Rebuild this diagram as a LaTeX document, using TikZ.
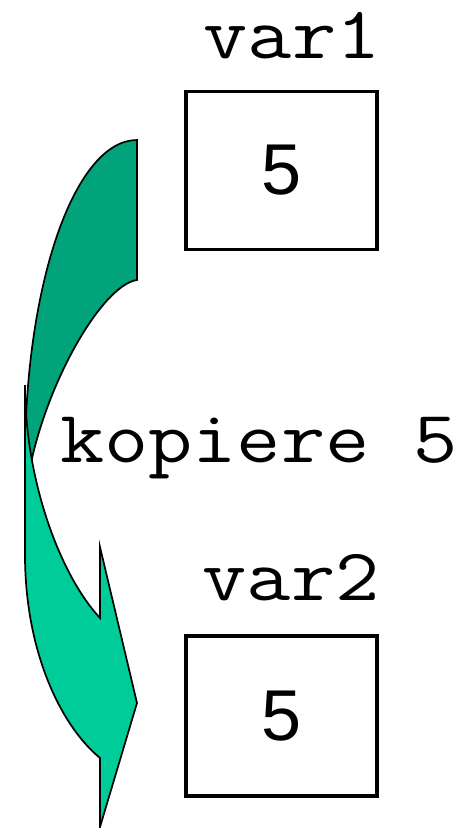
\documentclass[tikz,border=0pt]{standalone}
\usepackage{graphicx}
\usepackage{fontspec}
\setmainfont{Liberation Sans}
\definecolor{arrowback}{RGB}{0,163,122}
\definecolor{arrowfront}{RGB}{0,204,153}
% wide typewriter lettering for the labels
\newcommand{\widett}[1]{\scalebox{1.16}[1]{#1}}

\begin{document}
\begin{tikzpicture}[x=1pt,y=-1pt,
  varbox/.style={draw, line width=3.5pt, minimum width=191pt, minimum height=158pt,
    inner sep=0pt, font=\fontsize{72}{72}\selectfont},
  varlabel/.style={font=\ttfamily\fontsize{74}{74}\selectfont, anchor=base, inner sep=0pt},
  arrowpart/.style={draw=black, line width=1.7pt, line join=miter}]
\useasboundingbox (0,0) rectangle (463,828);

% back (tail) part of the curved arrow
\fill[arrowback, arrowpart] (137,140)
  .. controls (75,140) and (25,283) .. (25,460)
  -- (25,500)
  .. controls (35,400) and (100,285) .. (137,280)
  -- cycle;

% front part with the arrow head
\fill[arrowfront, arrowpart] (25,385)
  -- (25,555)
  .. controls (25,650) and (60,725) .. (100,758)
  -- (100,827) -- (137,703) -- (100,547) -- (100,618)
  .. controls (60,575) and (25,480) .. (25,385)
  -- cycle;

% variables
\node[varlabel] (v1label) at (292,58) {\widett{var1}};
\node[varbox] (v1box) at (281.3,170.5) {5};
\node[varlabel] (v2label) at (291,600) {\widett{var2}};
\node[varbox, minimum height=160pt] (v2box) at (281.4,715.8) {5};

% copy action
\node[varlabel] (copylabel) at (259,462) {\widett{kopiere 5}};
\end{tikzpicture}
\end{document}
